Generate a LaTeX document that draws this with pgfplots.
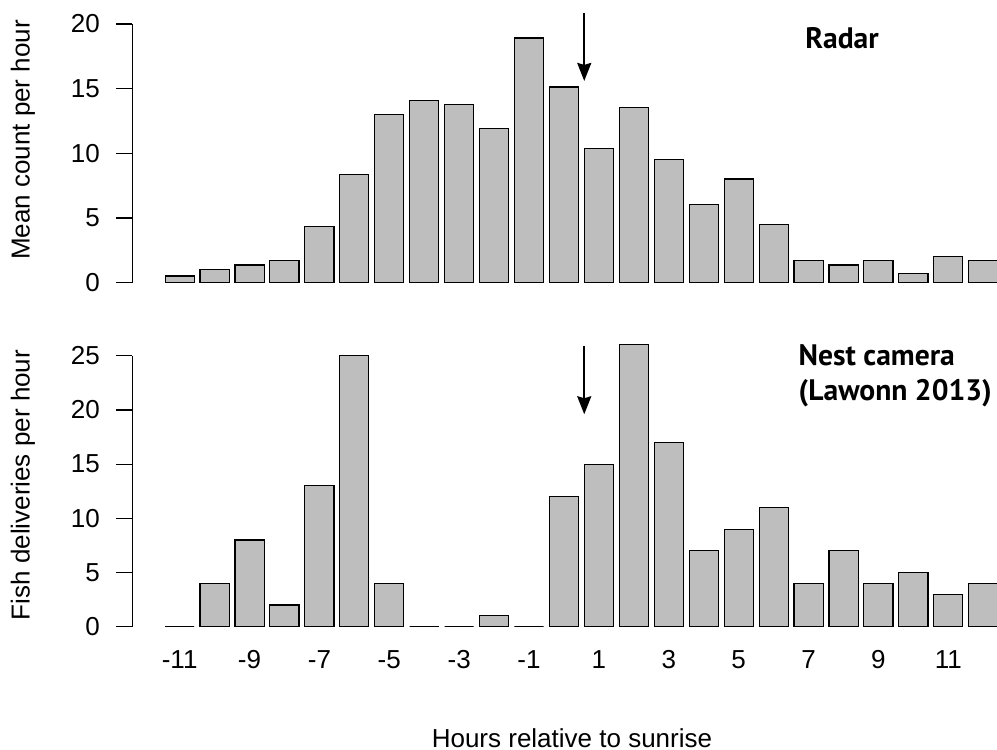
\documentclass[border=0pt]{standalone}
\usepackage{pgfplots}
\pgfplotsset{compat=1.18}
\usepackage{pgfplotstable}
\usetikzlibrary{arrows.meta}
\usepackage{fontspec}
\setmainfont{Liberation Sans}
\newfontfamily\annfont{PT Sans}
\definecolor{bargray}{RGB}{190,190,190}

\pgfplotstableread{
h v
-11 0.52
-10 1.03
-9 1.37
-8 1.70
-7 4.36
-6 8.35
-5 13.02
-4 14.08
-3 13.77
-2 11.91
-1 18.92
0 15.13
1 10.36
2 13.54
3 9.51
4 6.03
5 8.02
6 4.51
7 1.70
8 1.37
9 1.70
10 0.70
11 2.04
12 1.70
}\radar

\pgfplotstableread{
h v
-11 0
-10 4
-9 8
-8 2
-7 13
-6 25
-5 4
-4 0
-3 0
-2 1
-1 0
0 12
1 15
2 26
3 17
4 7
5 9
6 11
7 4
8 7
9 4
10 5
11 3
12 4
}\camera

\tikzset{
  ann/.style={font=\annfont\bfseries\fontsize{14.8}{17}\selectfont, inner sep=0pt},
  rarrow/.style={line width=1pt, -{Stealth[length=9pt,width=7pt,inset=1pt]}},
}

\begin{document}
\begin{tikzpicture}
\useasboundingbox (0,0) rectangle (498.5pt,-375pt);
\pgfplotsset{
  rstyle/.style={
    scale only axis,
    width=433.35pt,
    xmin=-12.355, xmax=12.45,
    ymin=0,
    clip=false,
    axis y line*=left,
    axis x line*=bottom,
    x axis line style={draw=none},
    xtick style={draw=none},
    y axis line style={line width=0.6pt},
    ytick style={line width=0.6pt, black},
    tick align=outside,
    major tick length=8pt,
    /pgf/number format/assume math mode=true,
    tick label style={font=\fontsize{13}{15}\selectfont},
    yticklabel style={anchor=east, inner sep=0pt, xshift=-8pt},
    label style={font=\fontsize{13}{15}\selectfont},
  },
  rbar/.style={ybar, bar width=0.8333, fill=bargray, draw=black, line width=0.55pt},
}
\begin{axis}[rstyle,
  at={(66.15pt,-141.35pt)}, anchor=south west,
  height=129.35pt,
  ymax=20,
  ytick={0,5,10,15,20},
  xtick=\empty,
  ylabel={Mean count per hour},
  ylabel style={at={(axis description cs:-0.1261,0.5516)}, anchor=center},
]
\addplot[rbar] table[x=h,y=v]{\radar};
\node[ann, anchor=base] at (axis description cs:0.8189,0.9072) {Radar};
\draw[rarrow] (axis cs:0.58,20.83) -- (axis cs:0.58,15.6);
\end{axis}

\begin{axis}[rstyle,
  at={(66.15pt,-313.35pt)}, anchor=south west,
  height=135.5pt,
  ymax=25,
  ytick={0,5,10,15,20,25},
  xtick={-11,-9,-7,-5,-3,-1,1,3,5,7,9,11},
  xticklabels={-11,-9,-7,-5,-3,-1,1,3,5,7,9,11},
  xticklabel style={anchor=center, yshift=-8.5pt},
  ylabel={Fish deliveries per hour},
  ylabel style={at={(axis description cs:-0.1261,0.5229)}, anchor=center},
  xlabel={Hours relative to sunrise},
  xlabel style={at={(axis description cs:0.5073,-0.4107)}, anchor=center},
]
\addplot[rbar] table[x=h,y=v]{\camera};
\node[ann, anchor=base west] at (axis description cs:0.7684,0.9657) {Nest camera};
\node[ann, anchor=base west] at (axis description cs:0.7684,0.8365) {(Lawonn 2013)};
\draw[rarrow] (axis cs:0.58,25.9) -- (axis cs:0.58,19.6);
\end{axis}
\end{tikzpicture}
\end{document}
